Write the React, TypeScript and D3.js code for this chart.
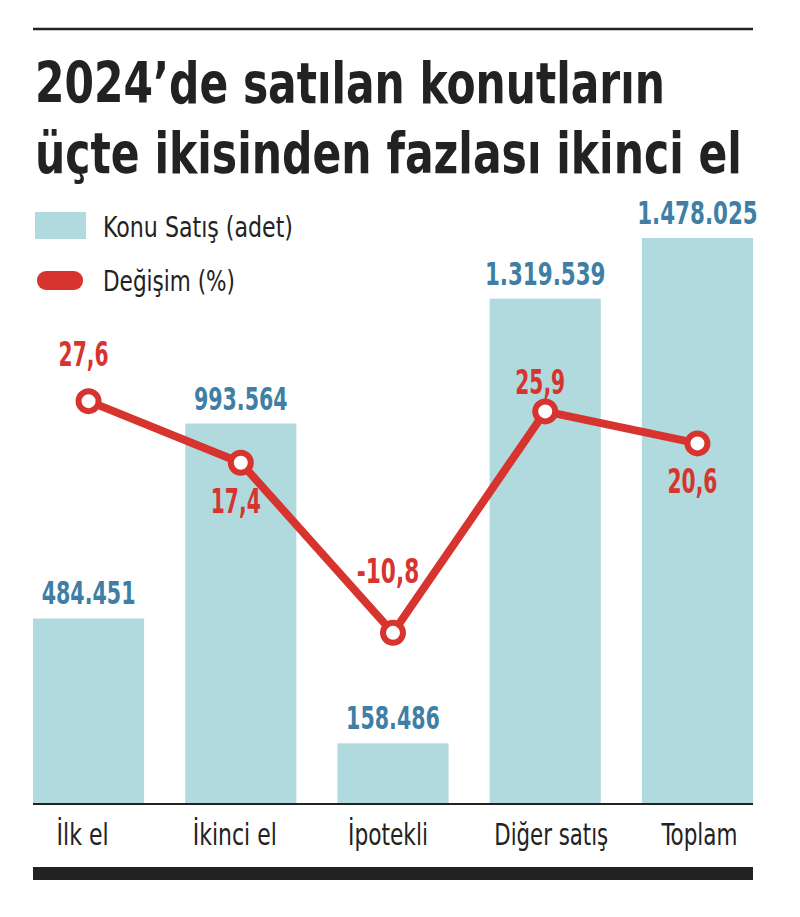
import React, { useLayoutEffect, useRef } from "react";
import * as d3 from "d3";

const categories = ["İlk el", "İkinci el", "İpotekli", "Diğer satış", "Toplam"];
const salesValues = [484451, 993564, 158486, 1319539, 1478025];
const salesLabels = ["484.451", "993.564", "158.486", "1.319.539", "1.478.025"];
const changeValues = [27.6, 17.4, -10.8, 25.9, 20.6];
const changeLabels = ["27,6", "17,4", "-10,8", "25,9", "20,6"];
const changeLabelAbove = [true, false, true, true, false];
const titleLines = ["2024’de satılan konutların", "üçte ikisinden fazlası ikinci el"];
const legendItems = ["Konu Satış (adet)", "Değişim (%)"];

const W = 800;
const H = 917;
const FONT = "'DejaVu Sans Condensed', 'Liberation Sans Narrow', 'Roboto Condensed', Roboto, sans-serif";
const BAR = "#b1dade";
const BLUE = "#3f7fa6";
const RED = "#d8342f";
const INK = "#222222";
// rendered text widths (styling only)
const titleWidths = [630, 707];
const catLabelWidth: Record<string, number> = { "İlk el": 52, "İkinci el": 84, "İpotekli": 80, "Diğer satış": 114, "Toplam": 76 };
const catLabelShift: Record<string, number> = { "İlk el": -6, "İkinci el": -6, "İpotekli": -5, "Diğer satış": 6, "Toplam": 2 };
const changeOffsetAbove: number[] = [-35, 0, -50, -17, 0];

export default function App() {
  const titleRef = useRef<SVGGElement>(null);
  const x = d3.scaleBand<string>().domain(categories).range([33, 753]).paddingInner(0.27).paddingOuter(0);
  const y = d3.scaleLinear().domain([0, 1478025]).range([804, 238]);
  const y2 = d3.scaleLinear().domain([-40, 50]).range([809, 266]);
  const cx = (c: string) => (x(c) as number) + x.bandwidth() / 2;
  const pts: [number, number][] = categories.map((c, i) => [cx(c), y2(changeValues[i])]);
  const line = d3.line();

  useLayoutEffect(() => {
    if (!titleRef.current) return;
    d3.select(titleRef.current).selectAll<SVGTextElement, unknown>("text").each(function (_, i) {
      const el = this as SVGTextElement;
      const w = el.getComputedTextLength();
      const baseY = +(el.getAttribute("data-y") || 0);
      const k = w > 0 ? titleWidths[i] / w : 1;
      el.setAttribute("x", "0");
      el.setAttribute("y", "0");
      el.setAttribute("transform", `translate(35,${baseY}) scale(${k},1)`);
    });
  }, []);

  return (
    <svg width={W} height={H} style={{ position: "absolute", left: 0, top: 0, background: "#fff" }} fontFamily={FONT}>
      <rect x={0} y={0} width={W} height={H} fill="#fff" />
      <line x1={33} x2={753} y1={29} y2={29} stroke={INK} strokeWidth={2.5} />
      <g ref={titleRef}>
        {titleLines.map((t, i) => (
          <text key={i} x={35} y={103 + i * 70} data-y={103 + i * 70} fontSize={57} fontWeight={700} fill={INK}>{t}</text>
        ))}
      </g>
      {/* legend */}
      <rect x={35} y={212} width={51} height={27} fill={BAR} />
      <text x={103} y={237} fontSize={28} fill={INK} textLength={190} lengthAdjust="spacingAndGlyphs">{legendItems[0]}</text>
      <rect x={37} y={271} width={46} height={19} rx={9} fill={RED} />
      <text x={103} y={291} fontSize={28} fill={INK} textLength={132} lengthAdjust="spacingAndGlyphs">{legendItems[1]}</text>

      {/* bars */}
      {categories.map((c, i) => (
        <rect key={c} x={x(c)} y={y(salesValues[i])} width={x.bandwidth()} height={y(0) - y(salesValues[i])} fill={BAR} />
      ))}
      {categories.map((c, i) => (
        <text key={c + "v"} x={cx(c)} y={y(salesValues[i]) - 14} textAnchor="middle" fontSize={32} fontWeight={700} fill={BLUE}
          textLength={salesLabels[i].length * 13.4} lengthAdjust="spacingAndGlyphs">{salesLabels[i]}</text>
      ))}
      <line x1={33} x2={753} y1={804} y2={804} stroke={INK} strokeWidth={2} />
      {categories.map((c) => (
        <text key={c + "l"} x={cx(c) + catLabelShift[c]} y={845} textAnchor="middle" fontSize={31} fill={INK}
          textLength={catLabelWidth[c]} lengthAdjust="spacingAndGlyphs">{c}</text>
      ))}
      <rect x={33} y={867} width={720} height={13} fill={INK} />

      {/* line */}
      <path d={line(pts) || ""} fill="none" stroke={RED} strokeWidth={8} strokeLinejoin="round" />
      {pts.map((p, i) => (
        <circle key={i} cx={p[0]} cy={p[1]} r={10} fill="#fff" stroke={RED} strokeWidth={6} />
      ))}
      {pts.map((p, i) => (
        <text key={"c" + i} x={p[0] - 5} y={changeLabelAbove[i] ? p[1] + changeOffsetAbove[i] : p[1] + 50} textAnchor="middle" fontSize={34}
          fontWeight={700} fill={RED} textLength={changeLabels[i].length * 12.5} lengthAdjust="spacingAndGlyphs">{changeLabels[i]}</text>
      ))}
    </svg>
  );
}
